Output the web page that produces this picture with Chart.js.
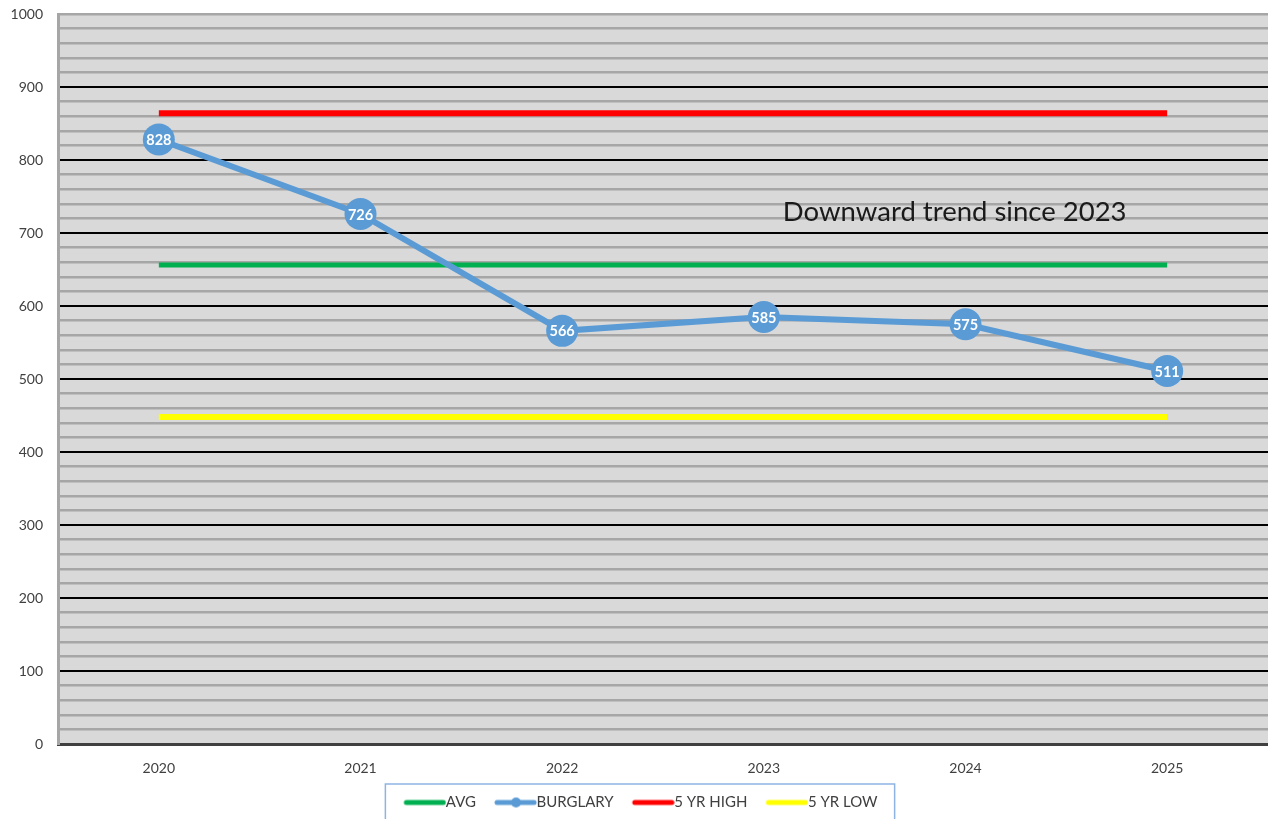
<!DOCTYPE html>
<html>
<head>
<meta charset="utf-8">
<script src="https://cdn.jsdelivr.net/npm/chart.js@4.4.0/dist/chart.umd.min.js"></script>
<style>
html,body{margin:0;padding:0;background:#fff;}
#wrap{width:1268px;height:819px;position:relative;}
</style>
</head>
<body>
<div id="wrap"><canvas id="c" width="1268" height="819"></canvas></div>
<script>
const years = ['2020','2021','2022','2023','2024','2025'];
const burglary = [828, 726, 566, 585, 575, 511];
const avgLine = [656, 656, 656, 656, 656, 656];
const highLine = [864, 864, 864, 864, 864, 864];
const lowLine = [448, 448, 448, 448, 448, 448];
const yTickLabels = ['0','100','200','300','400','500','600','700','800','900','1000'];
const annotationText = 'Downward trend since 2023';

const FONT = 'Lato, "Open Sans", sans-serif';
const BLUE = '#5b9bd5';

// legend swatch image: 56px wide, visible line shifted right so it touches the label text
function swatch(color, withDot) {
  const c = document.createElement('canvas');
  c.width = 56; c.height = 12;
  const g = c.getContext('2d');
  g.strokeStyle = color; g.lineWidth = 5; g.lineCap = 'round';
  g.beginPath(); g.moveTo(16, 6); g.lineTo(53, 6); g.stroke();
  if (withDot) { g.fillStyle = color; g.beginPath(); g.arc(35, 6, 5, 0, Math.PI * 2); g.fill(); }
  return c;
}

const bgPlugin = {
  id: 'bg',
  beforeDraw(chart) {
    const a = chart.chartArea, ctx = chart.ctx;
    ctx.save(); ctx.fillStyle = '#d9d9d9';
    ctx.fillRect(a.left, a.top, a.right - a.left, a.bottom - a.top);
    ctx.restore();
  }
};

const labelPlugin = {
  id: 'labels',
  afterDatasetsDraw(chart) {
    const ctx = chart.ctx;
    const meta = chart.getDatasetMeta(1);
    ctx.save();
    ctx.fillStyle = '#fff';
    ctx.font = 'bold 14.5px ' + FONT;
    ctx.textAlign = 'center'; ctx.textBaseline = 'middle';
    meta.data.forEach((p, i) => ctx.fillText(String(burglary[i]), p.x, p.y + 1));
    const xs = chart.scales.x, ys = chart.scales.y;
    ctx.fillStyle = '#1a1a1a';
    ctx.font = '27.5px ' + FONT;
    ctx.textAlign = 'left';
    ctx.fillText(annotationText, xs.getPixelForValue(3) + 19, ys.getPixelForValue(729));
    ctx.restore();
  },
  afterDraw(chart) {
    const lg = chart.legend;
    if (!lg || !lg.legendHitBoxes.length) return;
    const hb = lg.legendHitBoxes;
    const l = Math.min(...hb.map(h => h.left)) - 13;
    const r = Math.max(...hb.map(h => h.left + h.width)) + 17;
    const t = Math.min(...hb.map(h => h.top)) - 11;
    const ctx = chart.ctx;
    ctx.save(); ctx.strokeStyle = '#8eb4e3'; ctx.lineWidth = 1.5;
    ctx.strokeRect(l, t, r - l, 60);
    ctx.restore();
  }
};

new Chart(document.getElementById('c'), {
  type: 'line',
  data: {
    labels: years,
    datasets: [
      { label: 'AVG', data: avgLine, borderColor: '#00b050', borderWidth: 5, pointRadius: 0, order: 1, legendImg: swatch('#00b050') },
      { label: 'BURGLARY', data: burglary, borderColor: BLUE, backgroundColor: BLUE, borderWidth: 6, pointRadius: 16, pointBackgroundColor: BLUE, pointBorderColor: BLUE, pointBorderWidth: 0, order: 0, clip: false, legendImg: swatch(BLUE, true) },
      { label: '5 YR HIGH', data: highLine, borderColor: '#ff0000', borderWidth: 6, pointRadius: 0, order: 1, legendImg: swatch('#ff0000') },
      { label: '5 YR LOW', data: lowLine, borderColor: '#ffff00', borderWidth: 6, pointRadius: 0, order: 1, legendImg: swatch('#ffff00') }
    ]
  },
  options: {
    responsive: false,
    animation: false,
    layout: { autoPadding: false, padding: { top: 14, right: 0, left: 8, bottom: 0 } },
    plugins: {
      tooltip: { enabled: false },
      legend: {
        position: 'bottom',
        maxHeight: 37,
        labels: {
          font: { family: FONT, size: 15 },
          color: '#404040',
          usePointStyle: true,
          pointStyleWidth: 40,
          boxHeight: 12,
          padding: 13,
          sort: (a, b) => a.datasetIndex - b.datasetIndex,
          generateLabels(chart) {
            return chart.data.datasets.map((d, i) => ({
              text: d.label, datasetIndex: i, pointStyle: d.legendImg,
              fillStyle: d.borderColor, strokeStyle: d.borderColor, lineWidth: 0, hidden: false, fontColor: '#404040'
            }));
          }
        }
      }
    },
    scales: {
      x: {
        offset: true,
        grid: { display: false, drawTicks: false },
        border: { display: true, color: '#404040', width: 3 },
        ticks: { font: { family: FONT, size: 14 }, color: '#404040', padding: 16 },
        afterFit(s) { s.height = 38; }
      },
      y: {
        min: 0, max: 1000,
        grid: {
          drawTicks: false,
          color: c => (c.tick && c.tick.value % 100 === 0 && c.tick.value !== 1000 && c.tick.value !== 0) ? '#000000' : '#a6a6a6',
          lineWidth: c => (c.tick && c.tick.value % 100 === 0 && c.tick.value !== 1000) ? 2 : 2.5
        },
        border: { display: true, color: '#a6a6a6', width: 3 },
        ticks: {
          stepSize: 20,
          autoSkip: false,
          font: { family: FONT, size: 14 },
          color: '#404040',
          padding: 15,
          callback: v => (v % 100 === 0 ? yTickLabels[v / 100] : '')
        },
        afterFit(s) { s.width = 50; s.paddingTop = 0; s.paddingBottom = 0; }
      }
    }
  },
  plugins: [bgPlugin, labelPlugin]
});
</script>
</body>
</html>
